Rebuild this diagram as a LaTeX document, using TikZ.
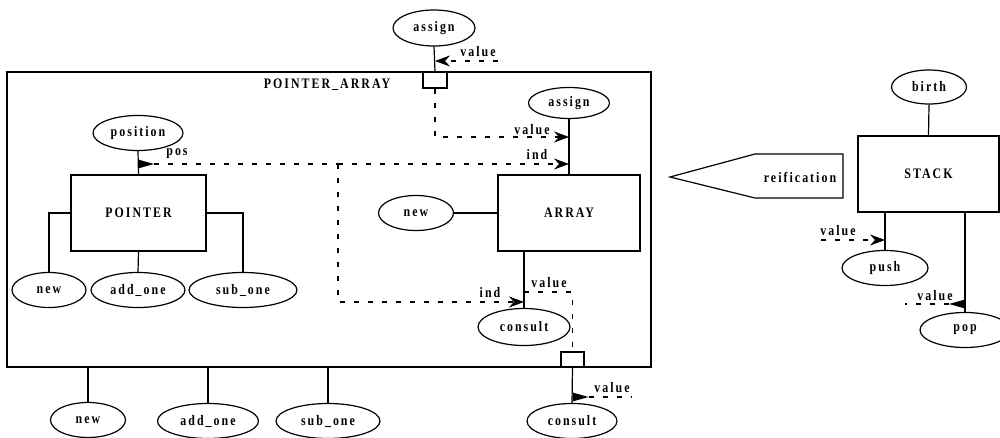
\documentclass[tikz,border=0pt]{standalone}
\usepackage{fontspec}
\newfontfamily\lblfont[FakeStretch=0.82,LetterSpace=14]{Liberation Serif}
\usetikzlibrary{arrows.meta,shapes.geometric,calc}

\tikzset{
  base/.style={line width=1.2pt,draw=black},
  txt/.style={font=\lblfont\bfseries\fontsize{14.5}{16}\selectfont,inner sep=0pt},
  op/.style={base,ellipse,txt,minimum height=35pt},
  boxnode/.style={base,rectangle,txt},
  port/.style={base,rectangle,fill=white,inner sep=0pt},
  link/.style={base},
  flow/.style={base,dash pattern=on 5pt off 9pt},
  chev/.style={-{Stealth[length=15pt,width=11pt,inset=5pt,line width=0.8pt,fill=black]}},
}

\begin{document}
\begin{tikzpicture}[x=1pt,y=-1pt]
\useasboundingbox (0,0) rectangle (1000,438);
\clip (0,0) rectangle (1000,438);

% ---- composite POINTER_ARRAY ----
\node[boxnode,minimum width=644pt,minimum height=295pt] (pa) at (329,219.5) {};
\node[txt] (patitle) at (327,85) {POINTER\_ARRAY};
\node[port,minimum width=24pt,minimum height=16pt] (ptop) at (435,80) {};
\node[port,minimum width=23pt,minimum height=15pt] (pbot) at (572.5,359.5) {};

% ---- components inside ----
\node[boxnode,minimum width=135pt,minimum height=76pt] (pointer) at (138.5,213) {POINTER};
\node[boxnode,minimum width=142pt,minimum height=76pt] (array) at (569,213) {ARRAY};

\node[op,minimum width=90pt] (position) at (138,133) {position};
\node[op,minimum width=74pt] (newp) at (49,290) {new};
\node[op,minimum width=94pt] (addp) at (138,290) {add\_one};
\node[op,minimum width=108pt] (subp) at (243,290) {sub\_one};

\node[op,minimum width=81pt,minimum height=31pt] (assignin) at (569,103) {assign};
\node[op,minimum width=75pt] (newa) at (416,213) {new};
\node[op,minimum width=92pt,minimum height=37pt] (consultin) at (524,327) {consult};

% ---- operations of the composite ----
\node[op,minimum width=82pt,minimum height=36pt] (assigntop) at (434,28) {assign};
\node[op,minimum width=75pt] (newo) at (88,420) {new};
\node[op,minimum width=101pt] (addo) at (208,421) {add\_one};
\node[op,minimum width=104pt] (subo) at (328,421) {sub\_one};
\node[op,minimum width=90pt] (consulto) at (572,421) {consult};

% ---- STACK ----
\node[boxnode,minimum width=141pt,minimum height=76pt] (stack) at (928.5,174) {STACK};
\node[op,minimum width=75pt,minimum height=34pt] (birth) at (929,87) {birth};
\node[op,minimum width=86pt] (push) at (885,268) {push};
\node[op,minimum width=90pt] (pop) at (965,330) {pop};

% ---- reification arrow ----
\draw[base] (670,177) -- (755,154) -- (843,154) -- (843,198) -- (755,198) -- cycle;
\node[txt] (reif) at (800,177) {reification};

% ---- solid links ----
\draw[link] (assigntop.south) -- (ptop.north);
\draw[link] (assignin.south) -- (array.north);
\draw[link] (position.south) -- (pointer.north);
\draw[link] (pointer.west) -| (newp.north);
\draw[link] (pointer.south) -- (addp.north);
\draw[link] (pointer.east) -| (subp.north);
\draw[link] (newa.east) -- (array.west);
\draw[link] (consultin.north |- array.south) -- (consultin.north);
\draw[link] (newo.north |- pa.south) -- (newo.north);
\draw[link] (addo.north |- pa.south) -- (addo.north);
\draw[link] (subo.north |- pa.south) -- (subo.north);
\draw[link] (pbot.south) -- (consulto.north);
\draw[link] (birth.south) -- (stack.north);
\draw[link] (push.north |- stack.south) -- (push.north);
\draw[link] (pop.north |- stack.south) -- (pop.north);

% ---- data flows ----
\coordinate (vtopin) at (498,61);
\coordinate (vtop) at (ptop.north |- vtopin);
\draw[flow,chev] (vtopin) -- (vtop);
\node[txt] (lvtop) at (478,52) {value};

\coordinate (vin) at (assignin.south |- 0,137);
\draw[flow,chev] (ptop.south) |- (vin);
\node[txt] (lvin) at (532,130) {value};

\coordinate (posout) at (position.south |- 0,164);
\coordinate (posfork) at (338,164);
\coordinate (indin) at (assignin.south |- posfork);
\coordinate (indc) at (consultin.north |- 0,302);
\fill ($(posout)+(0,-4.5)$) -- ($(posout)+(16,0)$) -- ($(posout)+(0,4.5)$) -- cycle;
\draw[flow] ($(posout)+(16,0)$) -- (posfork);
\draw[flow,chev] (posfork) -- (indin);
\draw[flow,chev] (posfork) |- (indc);
\node[txt] (lpos) at (177,154) {pos};
\node[txt] (lind1) at (537,155) {ind};
\node[txt] (lind2) at (490,293) {ind};

\coordinate (vout) at (consultin.north |- 0,292);
\draw[flow] (vout) -| (pbot.north);
\node[txt] (lvout) at (549,283) {value};

\coordinate (vres) at (pbot.south |- 0,397);
\coordinate (vresend) at (632,397);
\fill ($(vres)+(0,-4.5)$) -- ($(vres)+(16,0)$) -- ($(vres)+(0,4.5)$) -- cycle;
\draw[flow] ($(vres)+(16,0)$) -- (vresend);
\node[txt] (lvres) at (612,388) {value};

\coordinate (pushin) at (821,240);
\draw[flow,chev] (pushin) -- (push.north |- pushin);
\node[txt] (lpush) at (838,231) {value};

\coordinate (popout) at (pop.north |- 0,304);
\coordinate (popend) at (905,304);
\fill ($(popout)+(0,-4.5)$) -- ($(popout)+(-16,0)$) -- ($(popout)+(0,4.5)$) -- cycle;
\draw[flow] ($(popout)+(-16,0)$) -- (popend);
\node[txt] (lpop) at (935,296) {value};
\end{tikzpicture}
\end{document}
